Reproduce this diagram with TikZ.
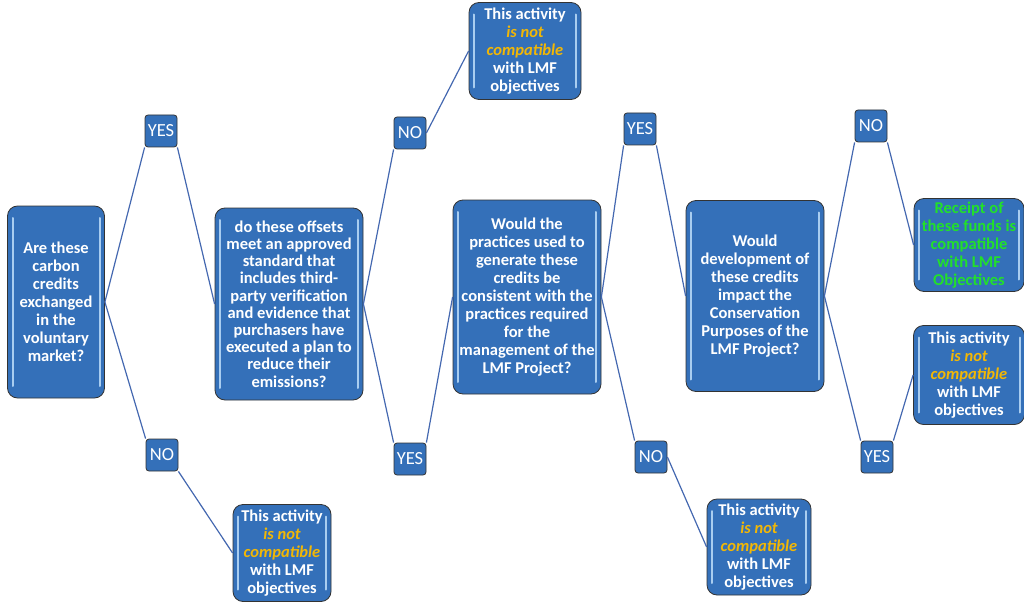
\documentclass[tikz,border=0pt]{standalone}
\usepackage{fontspec}
\setmainfont{Carlito}
\usetikzlibrary{positioning}

\definecolor{boxblue}{HTML}{3470B9}
\definecolor{edgeblue}{HTML}{4468B0}
\definecolor{stripblue}{HTML}{A9CDF0}
\definecolor{notgold}{HTML}{F2B705}
\definecolor{okgreen}{HTML}{22E02A}

\newcommand{\notcompat}{This activity\\{\color{notgold}\itshape is not}\\{\color{notgold}\itshape compatible}\\with LMF\\objectives}

\begin{document}
\begin{tikzpicture}[
    x=1pt, y=-1pt,
    box/.style={draw=black!80, line width=0.8pt, fill=boxblue, rounded corners=10pt,
      text=white, font=\bfseries\fontsize{16.5}{18}\selectfont, align=center, inner sep=1pt,
      path picture={\draw[stripblue, line width=2pt, line cap=round]
        ([shift={(5pt,-12pt)}]path picture bounding box.north west) -- ([shift={(5pt,12pt)}]path picture bounding box.south west)
        ([shift={(-5pt,-12pt)}]path picture bounding box.north east) -- ([shift={(-5pt,12pt)}]path picture bounding box.south east);}},
    answer/.style={draw=black!80, line width=0.8pt, fill=boxblue, rounded corners=3pt,
      text=white, font=\fontsize{18.5}{20}\selectfont, minimum width=32pt, minimum height=32pt, inner sep=0pt},
    link/.style={draw=edgeblue, line width=1.2pt},
]
\useasboundingbox (0,0) rectangle (1024,604);

\node[box, minimum width=97pt, minimum height=192pt] (q1) at (56,302)
  {Are these\\carbon\\credits\\exchanged\\in the\\voluntary\\market?};
\node[box, minimum width=148pt, minimum height=192pt, font=\bfseries\fontsize{16.5}{17.2}\selectfont] (q2) at (289,304)
  {do these offsets\\meet an approved\\standard that\\includes third-\\party verification\\and evidence that\\purchasers have\\executed a plan to\\reduce their\\emissions?};
\node[box, minimum width=148pt, minimum height=194pt] (q3) at (527,297)
  {Would the\\practices used to\\generate these\\credits be\\consistent with the\\practices required\\for the\\management of the\\LMF Project?};
\node[box, minimum width=138pt, minimum height=191pt] (q4) at (755,296)
  {Would\\development of\\these credits\\impact the\\Conservation\\Purposes of the\\LMF Project?};

\node[box, minimum width=98pt, minimum height=97pt] (stop1) at (282,553) {\notcompat};
\node[box, minimum width=112pt, minimum height=97pt] (stop2) at (525,51) {\notcompat};
\node[box, minimum width=104pt, minimum height=96pt] (stop3) at (759,547) {\notcompat};
\node[box, minimum width=111pt, minimum height=99pt] (stop4) at (969,375) {\notcompat};
\node[box, minimum width=110pt, minimum height=93pt, text=okgreen] (ok) at (969,245)
  {Receipt of\\these funds is\\compatible\\with LMF\\Objectives};

\node[answer] (yes1) at (161,131) {YES};
\node[answer] (no1) at (162,455) {NO};
\node[answer] (no2) at (410,133) {NO};
\node[answer] (yes2) at (410,459) {YES};
\node[answer] (yes3) at (640,129) {YES};
\node[answer] (no3) at (651,457) {NO};
\node[answer] (no4) at (871,126) {NO};
\node[answer] (yes4) at (877,457) {YES};

\draw[link] (q1.east) -- (yes1.south west);
\draw[link] (yes1.south east) -- (q2.west);
\draw[link] (q1.east) -- (no1.north west);
\draw[link] (no1.south east) -- (stop1.west);
\draw[link] (q2.east) -- (no2.south west);
\draw[link] (no2.east) -- (stop2.west);
\draw[link] (q2.east) -- (yes2.north west);
\draw[link] (yes2.north east) -- (q3.west);
\draw[link] (q3.east) -- (yes3.south west);
\draw[link] (yes3.south east) -- (q4.west);
\draw[link] (q3.east) -- (no3.north west);
\draw[link] (no3.east) -- (stop3.west);
\draw[link] (q4.east) -- (no4.south west);
\draw[link] (no4.south east) -- (ok.west);
\draw[link] (q4.east) -- (yes4.north west);
\draw[link] (yes4.north east) -- (stop4.west);
\end{tikzpicture}
\end{document}
